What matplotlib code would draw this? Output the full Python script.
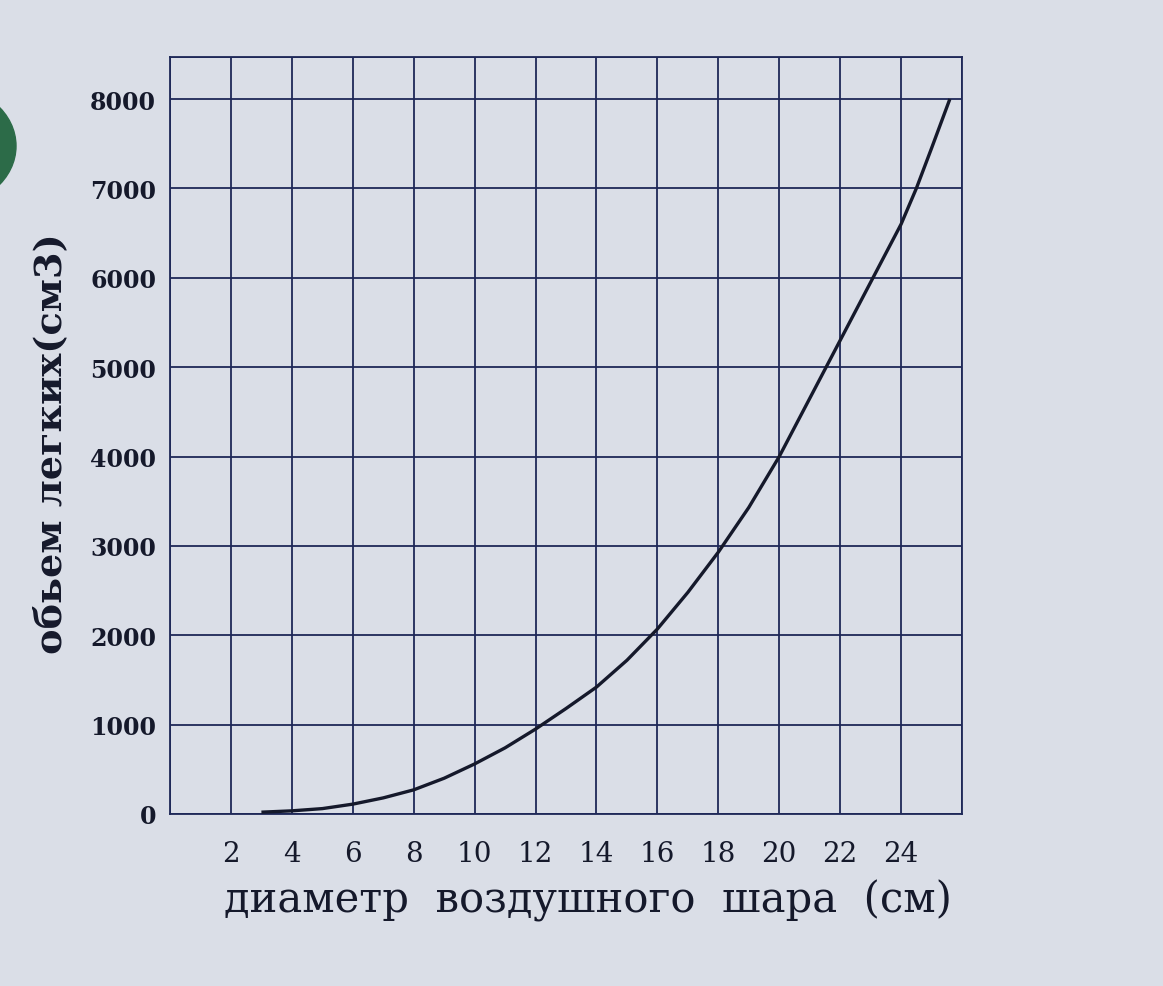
import matplotlib
matplotlib.use("Agg")
import matplotlib.pyplot as plt
from matplotlib.patches import Circle

# values
diameter = [3, 4, 5, 6, 7, 8, 9, 10, 11, 12, 13, 14, 15, 16, 17, 18, 19,
            20, 21, 22, 23, 24, 24.5, 25, 25.6]
volume = [20, 35, 60, 110, 180, 270, 400, 560, 740, 950, 1180, 1420, 1720,
          2070, 2480, 2930, 3430, 4000, 4650, 5300, 5950, 6600, 7000, 7450, 8000]
x_ticks = [2, 4, 6, 8, 10, 12, 14, 16, 18, 20, 22, 24]
y_ticks = [0, 1000, 2000, 3000, 4000, 5000, 6000, 7000, 8000]

BG = "#dadee7"
GRID = "#1e2858"
INK = "#15192b"
SERIF = ["DejaVu Serif"]

fig = plt.figure(figsize=(11.63, 9.87), dpi=100, facecolor=BG)
ax = fig.add_axes([0.1462, 0.1743, 0.6810, 0.7669], facecolor=BG)

# green blob from the photo edge
fig.patches.append(Circle((-55 / 1163, 1 - 147 / 987), 71 / 1163,
                          transform=fig.transFigure, color="#2c6b48",
                          zorder=0))

ax.set_xlim(0, 26)
ax.set_ylim(0, 8470)

for gx in range(0, 27, 2):
    ax.axvline(gx, color=GRID, linewidth=1.3, zorder=1)
for gy in y_ticks + [8470]:
    ax.axhline(gy, color=GRID, linewidth=1.3, zorder=1)
for s in ax.spines.values():
    s.set_color(GRID)
    s.set_linewidth(1.3)

ax.plot(diameter, volume, color=INK, linewidth=2.4, zorder=3,
        solid_capstyle="butt", solid_joinstyle="round")

ax.set_xticks(x_ticks)
ax.set_xticklabels([str(t) for t in x_ticks], family=SERIF, fontsize=20,
                   color=INK)
ax.set_yticks(y_ticks)
ax.set_yticklabels([str(t) for t in y_ticks], family=SERIF, fontsize=17,
                   fontweight="bold", color=INK)
ax.tick_params(axis="x", length=0, pad=19)
ax.tick_params(axis="y", length=0, pad=10)

ax.set_xlabel("диаметр  воздушного  шара  (см)", family=SERIF, fontsize=30,
              color=INK)
ax.xaxis.set_label_coords(0.528, -0.086)
ax.set_ylabel("обьем легких(см3)", family=SERIF, fontsize=27.5,
              fontweight="bold", color=INK)
ax.yaxis.set_label_coords(-0.127, 0.49)

fig.savefig("out.png", dpi=100, facecolor=BG)
